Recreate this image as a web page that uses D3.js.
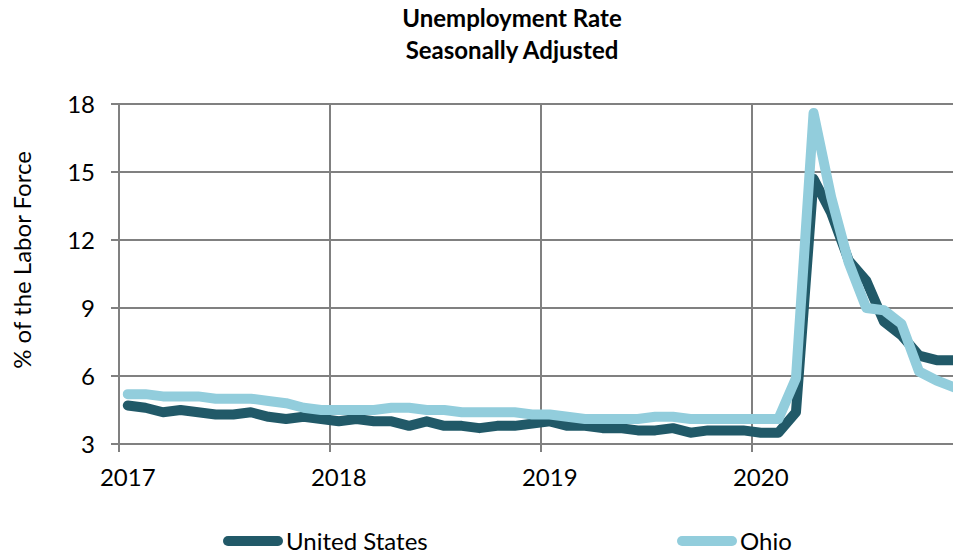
<!DOCTYPE html>
<html>
<head>
<meta charset="utf-8">
<script src="https://cdn.jsdelivr.net/npm/d3@7"></script>
<style>
  body { margin: 0; background: #fff; }
  text { font-family: Lato, "Open Sans", sans-serif; fill: #000; }
</style>
</head>
<body>
<svg id="chart" width="953" height="554"></svg>
<script>
// monthly values, Jan 2017 .. Dec 2020
const years = [2017, 2018, 2019, 2020];
const usRate = [
  4.7, 4.6, 4.4, 4.5, 4.4, 4.3, 4.3, 4.4, 4.2, 4.1, 4.2, 4.1,
  4.0, 4.1, 4.0, 4.0, 3.8, 4.0, 3.8, 3.8, 3.7, 3.8, 3.8, 3.9,
  4.0, 3.8, 3.8, 3.7, 3.7, 3.6, 3.6, 3.7, 3.5, 3.6, 3.6, 3.6,
  3.5, 3.5, 4.4, 14.7, 13.2, 11.1, 10.2, 8.4, 7.8, 6.9, 6.7, 6.7
];
const ohioRate = [
  5.2, 5.2, 5.1, 5.1, 5.1, 5.0, 5.0, 5.0, 4.9, 4.8, 4.6, 4.5,
  4.5, 4.5, 4.5, 4.6, 4.6, 4.5, 4.5, 4.4, 4.4, 4.4, 4.4, 4.3,
  4.3, 4.2, 4.1, 4.1, 4.1, 4.1, 4.2, 4.2, 4.1, 4.1, 4.1, 4.1,
  4.1, 4.1, 5.9, 17.6, 13.9, 11.0, 9.0, 8.9, 8.3, 6.2, 5.8, 5.5
];
const yTicks = [3, 6, 9, 12, 15, 18];

const series = [
  {name: 'United States', values: usRate, color: '#215968'},
  {name: 'Ohio', values: ohioRate, color: '#92cddc'}
];

const svg = d3.select('#chart');
const plotLeft = 119, plotTop = 104, plotBottom = 444;

// month index scale, points sit in the middle of each month
const x = d3.scaleLinear().domain([0, 48]).range([plotLeft, plotLeft + 4 * 211]);
const y = d3.scaleLinear().domain([3, 18]).range([plotBottom, plotTop]);

// title
svg.append('text')
  .attr('x', 512).attr('y', 27)
  .attr('text-anchor', 'middle')
  .style('font-size', '24px').style('font-weight', 'bold')
  .text('Unemployment Rate');
svg.append('text')
  .attr('x', 512).attr('y', 59)
  .attr('text-anchor', 'middle')
  .style('font-size', '24px').style('font-weight', 'bold')
  .text('Seasonally Adjusted');

// horizontal grid lines
svg.append('g')
  .selectAll('line')
  .data(yTicks)
  .join('line')
  .attr('x1', plotLeft - 8).attr('x2', 953)
  .attr('y1', d => y(d)).attr('y2', d => y(d))
  .style('stroke', '#808080')
  .style('stroke-width', 2);

// vertical grid lines / year ticks
svg.append('g')
  .selectAll('line')
  .data(years)
  .join('line')
  .attr('x1', (d, i) => x(i * 12)).attr('x2', (d, i) => x(i * 12))
  .attr('y1', plotTop).attr('y2', plotBottom + 8)
  .style('stroke', '#808080')
  .style('stroke-width', 2);

// y tick labels
svg.append('g')
  .selectAll('text')
  .data(yTicks)
  .join('text')
  .attr('x', 95)
  .attr('y', d => y(d) + 8.5)
  .attr('text-anchor', 'end')
  .style('font-size', '24px')
  .text(d => d);

// x tick labels, under the january point
svg.append('g')
  .selectAll('text')
  .data(years)
  .join('text')
  .attr('x', (d, i) => x(i * 12 + 0.5))
  .attr('y', 486)
  .attr('text-anchor', 'middle')
  .style('font-size', '24px')
  .text(d => d);

// y axis title
svg.append('text')
  .attr('transform', 'translate(31,260) rotate(-90)')
  .attr('text-anchor', 'middle')
  .style('font-size', '24px')
  .text('% of the Labor Force');

// lines
const line = d3.line()
  .x((d, i) => x(i + 0.5))
  .y(d => y(d));

svg.append('g')
  .selectAll('path')
  .data(series)
  .join('path')
  .attr('d', d => line(d.values))
  .style('fill', 'none')
  .style('stroke', d => d.color)
  .style('stroke-width', 10)
  .style('stroke-linejoin', 'round')
  .style('stroke-linecap', 'round');

// legend
const legendX = [222, 676];
const legend = svg.append('g')
  .selectAll('g')
  .data(series)
  .join('g')
  .attr('transform', (d, i) => `translate(${legendX[i]},541)`);

legend.append('line')
  .attr('x1', 6).attr('x2', 56)
  .attr('y1', 0).attr('y2', 0)
  .style('stroke', d => d.color)
  .style('stroke-width', 10)
  .style('stroke-linecap', 'round');

legend.append('text')
  .attr('x', 64).attr('y', 8.5)
  .style('font-size', '24px')
  .text(d => d.name);
</script>
</body>
</html>
